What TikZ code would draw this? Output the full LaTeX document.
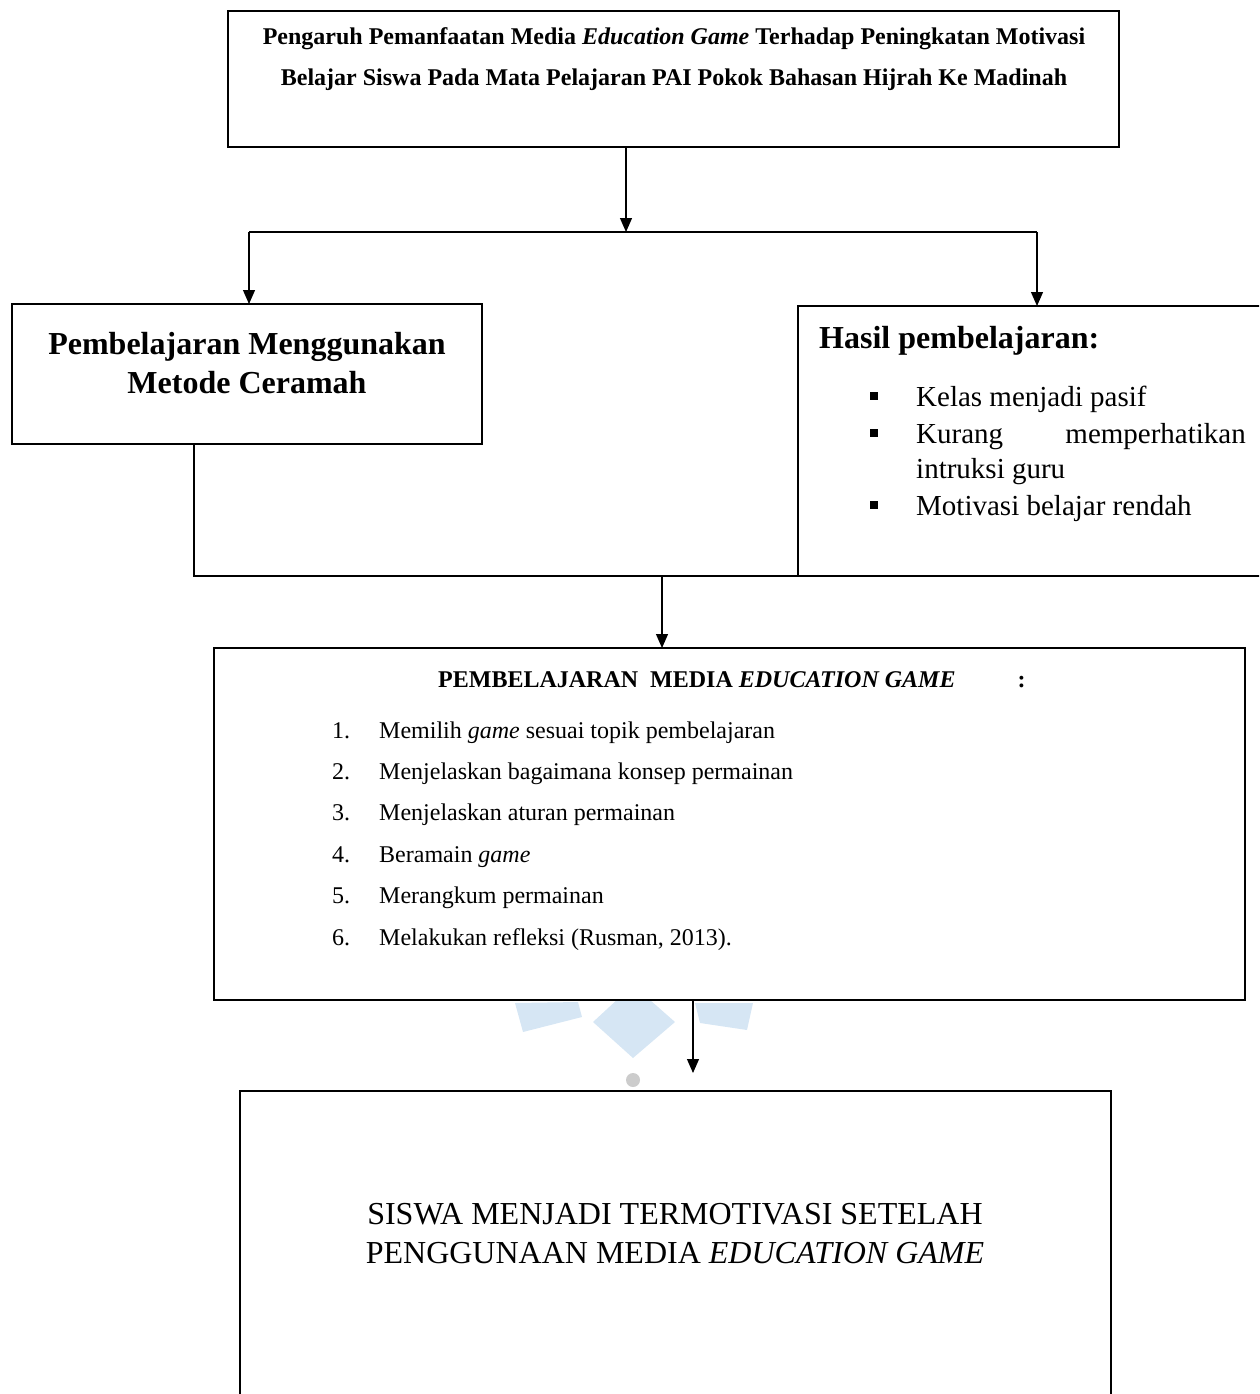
\documentclass[tikz,border=0pt]{standalone}
\usepackage{fontspec}
\setmainfont{Liberation Serif}
\usetikzlibrary{arrows.meta,calc}
\definecolor{wmblue}{HTML}{D6E6F4}
\definecolor{wmgray}{HTML}{CCCCCC}
\begin{document}
\begin{tikzpicture}[x=1pt,y=-1pt,
  box/.style={draw, line width=2.5pt, fill=white, rectangle, inner sep=0pt, outer sep=0pt, anchor=north west},
  conn/.style={line width=1.2pt},
  arr/.style={conn, -{Triangle[length=14pt,width=12pt]}},
  txt/.style={inner sep=0pt, anchor=base},
  txtw/.style={inner sep=0pt, anchor=base west},
  txte/.style={inner sep=0pt, anchor=base east},
  ttl/.style={font=\fontsize{24}{29}\selectfont\bfseries},
  hd/.style={font=\fontsize{32}{38}\selectfont\bfseries},
  bl/.style={font=\fontsize{29}{35}\selectfont},
  li/.style={font=\fontsize{24}{29}\selectfont},
  big/.style={font=\fontsize{32}{38}\selectfont},
  bsq/.style={fill=black, minimum size=8pt, inner sep=0pt, rectangle}
]
\useasboundingbox (0,0) rectangle (1259,1394);
\clip (0,0) rectangle (1259,1394);

% watermark
\fill[wmblue] (515,1003) -- (578,1002) -- (582,1017) -- (523,1032) -- cycle;
\fill[wmblue] (633,985) -- (675,1022) -- (633,1058) -- (593,1022) -- cycle;
\fill[wmblue] (695,1003) -- (753,1003) -- (747,1030) -- (700,1023) -- cycle;
\fill[wmgray] (633,1080) circle (7);

% boxes
\node[box, minimum width=891pt, minimum height=136pt] (top) at (228,11) {};
\node[box, minimum width=470pt, minimum height=140pt] (lb) at (12,304) {};
\node[box, minimum width=470pt, minimum height=270pt] (rb) at (798,306) {};
\node[box, minimum width=1031pt, minimum height=352pt] (mb) at (214,648) {};
\node[box, line width=2pt, minimum width=871pt, minimum height=320pt] (bb) at (240,1091) {};

% junction coordinates
\coordinate (c1) at (626,232);
\coordinate (cL) at (249,232);
\coordinate (cR) at (1037,232);
\coordinate (j1) at (194,576);
\coordinate (j2) at (662,576);
\coordinate (j3) at (693,1073);

% connectors
\draw[arr] (top.south -| c1) -- (c1);
\draw[conn] (cL) -- (cR);
\draw[arr] (cL) -- (cL |- lb.north);
\draw[arr] (cR) -- (cR |- rb.north);
\draw[conn] (lb.south -| j1) -- (j1) -- (rb.south west);
\draw[arr] (j2) -- (j2 |- mb.north);
\draw[arr] (mb.south -| j3) -- (j3);

% top title
\node[txt, ttl] (t1) at (674,45) {Pengaruh Pemanfaatan Media \textit{Education Game} Terhadap Peningkatan Motivasi};
\node[txt, ttl] (t2) at (674,86) {Belajar Siswa Pada Mata Pelajaran PAI Pokok Bahasan Hijrah Ke Madinah};

% left box
\node[txt, hd] (l1) at (247,354) {Pembelajaran Menggunakan};
\node[txt, hd] (l2) at (247,393) {Metode Ceramah};

% right box
\node[txtw, hd] (r0) at (819,348) {Hasil pembelajaran:};
\node[bsq] (b1) at (874,396) {};
\node[bsq] (b2) at (874,433) {};
\node[bsq] (b3) at (874,505) {};
\node[txtw, bl] (r1) at (916,406) {Kelas menjadi pasif};
\node[txtw, bl] (r2a) at (916,443) {Kurang};
\node[txte, bl] (r2b) at (1246,443) {memperhatikan};
\node[txtw, bl] (r2c) at (916,478) {intruksi guru};
\node[txtw, bl] (r3) at (916,515) {Motivasi belajar rendah};

% middle box
\node[txtw, ttl] (m0) at (438,687) {PEMBELAJARAN\ \ MEDIA \textit{EDUCATION GAME}\hspace{62pt}:};
\foreach \i/\t [count=\k from 0] in {1/{Memilih \textit{game} sesuai topik pembelajaran},
  2/{Menjelaskan bagaimana konsep permainan},
  3/{Menjelaskan aturan permainan},
  4/{Beramain \textit{game}},
  5/{Merangkum permainan},
  6/{Melakukan refleksi (Rusman, 2013).}}{
  \node[txtw, li] (n\i) at (332,738+41.4*\k) {\i.};
  \node[txtw, li] (m\i) at (379,738+41.4*\k) {\t};
}

% bottom box
\node[txt, big] (s1) at (675,1224) {SISWA MENJADI TERMOTIVASI SETELAH};
\node[txt, big] (s2) at (675,1263) {PENGGUNAAN MEDIA \textit{EDUCATION GAME}};
\end{tikzpicture}
\end{document}
